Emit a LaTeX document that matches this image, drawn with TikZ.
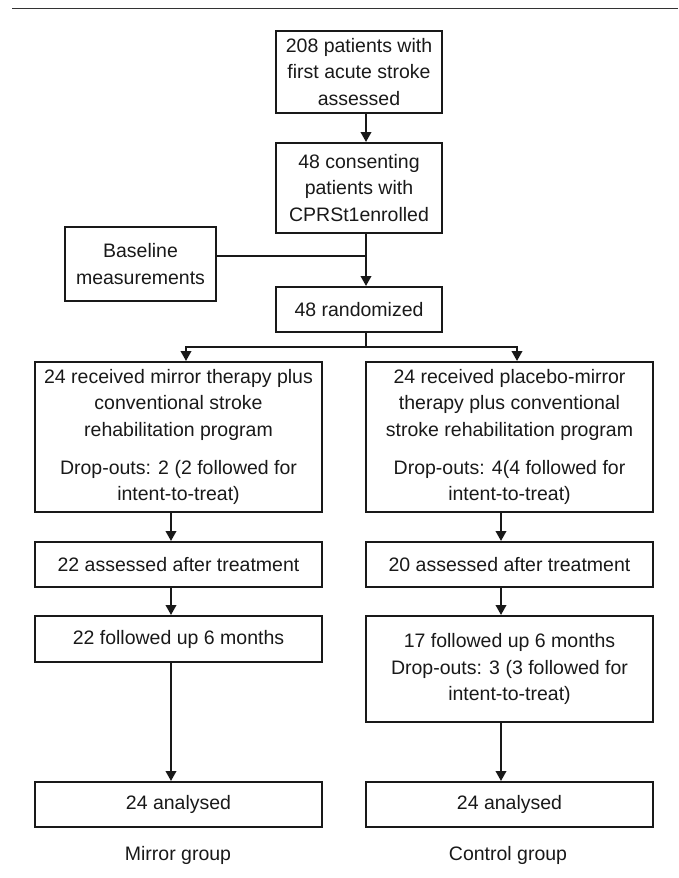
\documentclass[tikz,border=0pt]{standalone}
\usepackage{fontspec}
\setmainfont{Liberation Sans}
\usetikzlibrary{arrows.meta}
\tikzset{
  txt/.style={inner sep=0pt, align=center, text=black!90, font=\fontsize{19.5}{26.7}\selectfont},
  box/.style={txt, draw=black!90, line width=2pt},
  ln/.style={line width=2pt, black!90},
  arr/.style={line width=2pt, black!90, -{Triangle[length=10pt,width=10.5pt]}},
  rule/.style={line width=1.3pt, black!80}
}
\begin{document}
\begin{tikzpicture}[x=1pt,y=-1pt]
\useasboundingbox (0,0) rectangle (678,878);
\coordinate (r1) at (12,8.5);
\coordinate (r2) at (678,8.5);
\draw[rule] (r1) -- (r2);

\node[box, minimum width=166pt, minimum height=82pt] (b1) at (359,72)
  {208 patients with\\first acute stroke\\assessed};
\node[box, minimum width=166pt, minimum height=90pt] (b2) at (359,188)
  {48 consenting\\patients with\\CPRSt1enrolled};
\node[box, minimum width=151pt, minimum height=74pt] (base) at (140.5,264)
  {Baseline\\measurements};
\node[box, minimum width=166pt, minimum height=45pt] (rand) at (359,309.5)
  {48 randomized};

\node[box, minimum width=287pt, minimum height=150pt] (L1) at (178.5,437)
  {24 received mirror therapy plus\\conventional stroke\\rehabilitation program\\[11pt]Drop-outs: 2 (2 followed for\\intent-to-treat)};
\node[box, minimum width=287pt, minimum height=150pt] (R1) at (509.5,437)
  {24 received placebo-mirror\\therapy plus conventional\\stroke rehabilitation program\\[11pt]Drop-outs: 4(4 followed for\\intent-to-treat)};

\node[box, minimum width=287pt, minimum height=45pt] (L2) at (178.5,564.5)
  {22 assessed after treatment};
\node[box, minimum width=287pt, minimum height=45pt] (R2) at (509.5,564.5)
  {20 assessed after treatment};

\node[box, minimum width=287pt, minimum height=46pt] (L3) at (178.5,639)
  {22 followed up 6 months};
\node[box, minimum width=287pt, minimum height=106pt] (R3) at (509.5,669)
  {17 followed up 6 months\\Drop-outs: 3 (3 followed for\\intent-to-treat)};

\node[box, minimum width=287pt, minimum height=45pt] (L4) at (178.5,804.5)
  {24 analysed};
\node[box, minimum width=287pt, minimum height=45pt] (R4) at (509.5,804.5)
  {24 analysed};

\node[txt] (lg) at (178,855) {Mirror group};
\node[txt] (rg) at (508,855) {Control group};

% connectors
\draw[arr] ([xshift=7pt]b1.south) -- ([xshift=7pt]b2.north);
\draw[arr] ([xshift=7pt]b2.south) -- ([xshift=7pt]rand.north);
\coordinate (j) at (366,256);
\draw[ln] (base.east |- j) -- (j);
\coordinate (bt) at (366,347);
\draw[ln] ([xshift=7pt]rand.south) -- (bt);
\draw[arr] (bt) -| ([xshift=7.5pt]L1.north);
\draw[arr] (bt) -| ([xshift=7.5pt]R1.north);

\draw[arr] ([xshift=-7.5pt]L1.south) -- ([xshift=-7.5pt]L2.north);
\draw[arr] ([xshift=-7.5pt]L2.south) -- ([xshift=-7.5pt]L3.north);
\draw[arr] ([xshift=-7.5pt]L3.south) -- ([xshift=-7.5pt]L4.north);
\draw[arr] ([xshift=-8.5pt]R1.south) -- ([xshift=-8.5pt]R2.north);
\draw[arr] ([xshift=-8.5pt]R2.south) -- ([xshift=-8.5pt]R3.north);
\draw[arr] ([xshift=-8.5pt]R3.south) -- ([xshift=-8.5pt]R4.north);
\end{tikzpicture}
\end{document}
